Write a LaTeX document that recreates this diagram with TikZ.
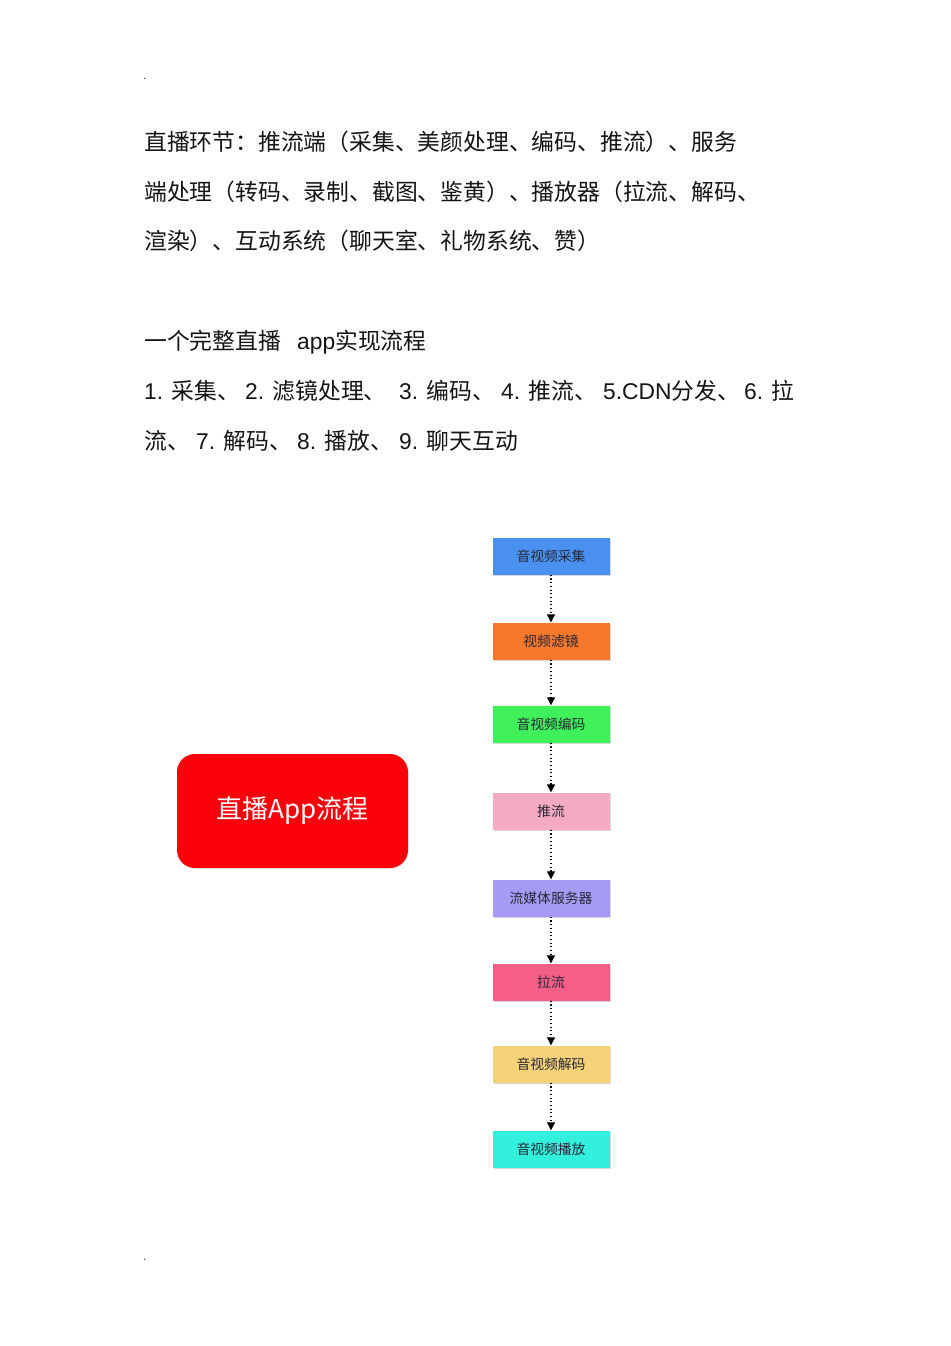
\documentclass[tikz,border=0pt]{standalone}
\usepackage{fontspec}
\setmainfont{Liberation Sans}
\newfontfamily\cjkf{Noto Sans CJK SC}
\newfontfamily\latf{Liberation Sans}
\usetikzlibrary{arrows.meta,shadows}
\definecolor{bluebox}{RGB}{74,144,240}
\definecolor{orangebox}{RGB}{245,120,45}
\definecolor{greenbox}{RGB}{64,240,90}
\definecolor{pinkbox}{RGB}{245,170,195}
\definecolor{purplebox}{RGB}{165,155,245}
\definecolor{rosebox}{RGB}{245,95,135}
\definecolor{yellowbox}{RGB}{245,210,120}
\definecolor{cyanbox}{RGB}{50,240,220}
\definecolor{appred}{RGB}{250,0,10}
\definecolor{labeltext}{RGB}{40,40,55}
\definecolor{bodytext}{RGB}{20,20,20}
\begin{document}
\begin{tikzpicture}[x=1pt,y=-1pt,
  txt/.style={anchor=base west, inner sep=0pt, text=bodytext, font=\fontsize{22.8}{27}\selectfont\cjkf},
  stage/.style={minimum width=117pt, minimum height=37pt, inner sep=0pt,
    font=\fontsize{13.8}{16}\selectfont\cjkf, text=labeltext,
    drop shadow={opacity=0.3, shadow xshift=1pt, shadow yshift=-1.5pt}},
  flow/.style={line width=1.1pt, dash pattern=on 1.1pt off 2.6pt, -{Triangle[width=8pt,length=8pt]}},
  pagedot/.style={inner sep=0pt, font=\fontsize{11}{11}\selectfont, text=bodytext}
]
\useasboundingbox[fill=white] (0,0) rectangle (950,1346);

\node[pagedot] (dot1) at (145,79) {.};
\node[pagedot] (dot2) at (145,1260) {.};

\node[txt] (l1) at (144,150) {直播环节：推流端（采集、美颜处理、编码、推流）、服务};
\node[txt] (l2) at (144,200) {端处理（转码、录制、截图、鉴黄）、播放器（拉流、解码、};
\node[txt] (l3) at (144,249) {渲染）、互动系统（聊天室、礼物系统、赞）};
\node[txt] (l4) at (144,349) {\makebox[153pt][l]{一个完整直播}{\latf app}实现流程};
\node[txt] (l5) at (144,399) {\makebox[101pt][l]{{\latf 1. }采集、}\makebox[154pt][l]{{\latf 2. }滤镜处理、}\makebox[102pt][l]{{\latf 3. }编码、}\makebox[102pt][l]{{\latf 4. }推流、}\makebox[141pt][l]{{\latf 5.CDN}分发、}{\latf 6. }拉};
\node[txt] (l6) at (144,449) {\makebox[52pt][l]{流、}\makebox[101pt][l]{{\latf 7. }解码、}\makebox[102pt][l]{{\latf 8. }播放、}{\latf 9. }聊天互动};

\node[fill=appred, rounded corners=18pt, minimum width=231pt, minimum height=114pt,
  text=white, font=\fontsize{26}{30}\selectfont\cjkf,
  drop shadow={opacity=0.15, shadow xshift=0.8pt, shadow yshift=-1.2pt}] (app) at (292.5,811) {直播App流程};

\node[stage, fill=bluebox]   (s1) at (551,556)  {音视频采集};
\node[stage, fill=orangebox] (s2) at (551,641)  {视频滤镜};
\node[stage, fill=greenbox]  (s3) at (551,724)  {音视频编码};
\node[stage, fill=pinkbox]   (s4) at (551,811)  {推流};
\node[stage, fill=purplebox] (s5) at (551,898)  {流媒体服务器};
\node[stage, fill=rosebox]   (s6) at (551,982)  {拉流};
\node[stage, fill=yellowbox] (s7) at (551,1064) {音视频解码};
\node[stage, fill=cyanbox]   (s8) at (551,1149) {音视频播放};

\draw[flow] (s1.south) -- (s2.north);
\draw[flow] (s2.south) -- (s3.north);
\draw[flow] (s3.south) -- (s4.north);
\draw[flow] (s4.south) -- (s5.north);
\draw[flow] (s5.south) -- (s6.north);
\draw[flow] (s6.south) -- (s7.north);
\draw[flow] (s7.south) -- (s8.north);
\end{tikzpicture}
\end{document}
